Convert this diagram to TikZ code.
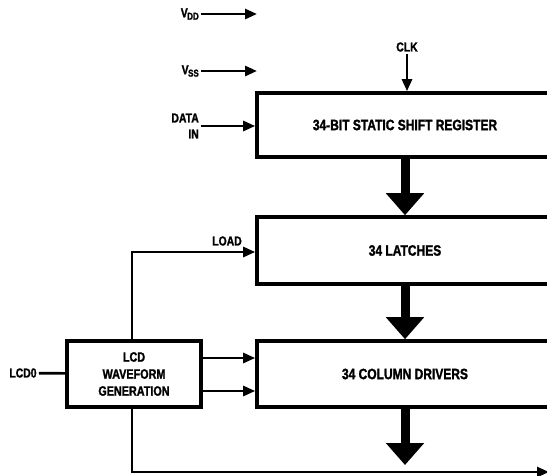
\documentclass[tikz,border=0pt]{standalone}
\usepackage{fontspec}
\usepackage{tikz}
\usetikzlibrary{calc,arrows.meta,positioning}
\setmainfont{Liberation Sans}[FakeStretch=0.8,BoldFeatures={FakeBold=1.5}]
\newcommand{\SupplyPin}[1]{V\kern-0.5pt\raisebox{-0.35ex}{\fontsize{10}{10}\selectfont #1}}
\newcommand{\BoxFont}{\fontsize{15}{17}\selectfont\bfseries}
\newcommand{\PinFont}{\fontsize{13}{16}\selectfont\bfseries}
\tikzset{
  blockBox/.style={draw, line width=3.6pt, inner sep=0pt, align=center, font=\BoxFont},
  pinLabel/.style={inner sep=2pt, align=right, font=\PinFont},
  thinLine/.style={line width=2.7pt},
  thinArrow/.style={line width=2.7pt, -{Triangle[length=12pt,width=10pt]}},
  fatArrow/.style={line width=9pt, -{Triangle[length=22pt,width=37pt]}}
}

\begin{document}
\begin{tikzpicture}[x=1pt,y=-1pt]
\useasboundingbox (0,0) rectangle (547,475);
\clip (0,0) rectangle (547,475);
% main blocks, cut by the right margin
\node[blockBox,minimum width=296pt,minimum height=64pt] (shiftReg) at (405,125) {34-BIT STATIC SHIFT REGISTER};
\node[blockBox,minimum width=296pt,minimum height=67pt] (latches) at (405,250.5) {34 LATCHES};
\node[blockBox,minimum width=296pt,minimum height=66pt] (colDrv) at (405,374) {34 COLUMN DRIVERS};
\node[blockBox,minimum width=134pt,minimum height=66pt,font=\fontsize{13.5}{17}\selectfont\bfseries] (lcdWave) at (134,374) {LCD\\WAVEFORM\\GENERATION};
% pins
\node[pinLabel,anchor=east] (vdd) at (201,14) {\SupplyPin{DD}};
\node[pinLabel,anchor=east] (vss) at (201,71) {\SupplyPin{SS}};
\node[pinLabel] (clk) at (407,47) {CLK};
\node[pinLabel,anchor=east] (dataIn) at (201,126) {DATA\\IN};
\node[pinLabel] (lcdIn) at (23,373) {LCD0};
\node[pinLabel] (loadLbl) at (227,241) {LOAD};
\coordinate (vddEnd) at (257,14);
\coordinate (vssEnd) at (257,71);
\coordinate (outEnd) at (405,465);
\coordinate (busEnd) at (549,472);
% connectors
\draw[thinArrow] (vdd) -- (vddEnd);
\draw[thinArrow] (vss) -- (vssEnd);
\draw[thinArrow] (clk) -- (clk |- shiftReg.north);
\draw[thinArrow] (dataIn) -- (dataIn -| shiftReg.west);
\draw[fatArrow] (shiftReg) -- (latches);
\draw[fatArrow] (latches) -- (colDrv);
\draw[fatArrow] (colDrv) -- (outEnd);
\draw[thinArrow] ([xshift=-2pt]lcdWave.north) |- ([yshift=-1.5pt]latches.west);
\draw[thinArrow] ([yshift=16pt]lcdWave.east) -- ([yshift=16pt]colDrv.west);
\draw[thinArrow] ([yshift=-17pt]lcdWave.east) -- ([yshift=-17pt]colDrv.west);
\draw[thinLine] (lcdIn) -- (lcdWave);
\draw[thinArrow] ([xshift=-2pt]lcdWave.south) |- (busEnd);
\end{tikzpicture}
\end{document}
